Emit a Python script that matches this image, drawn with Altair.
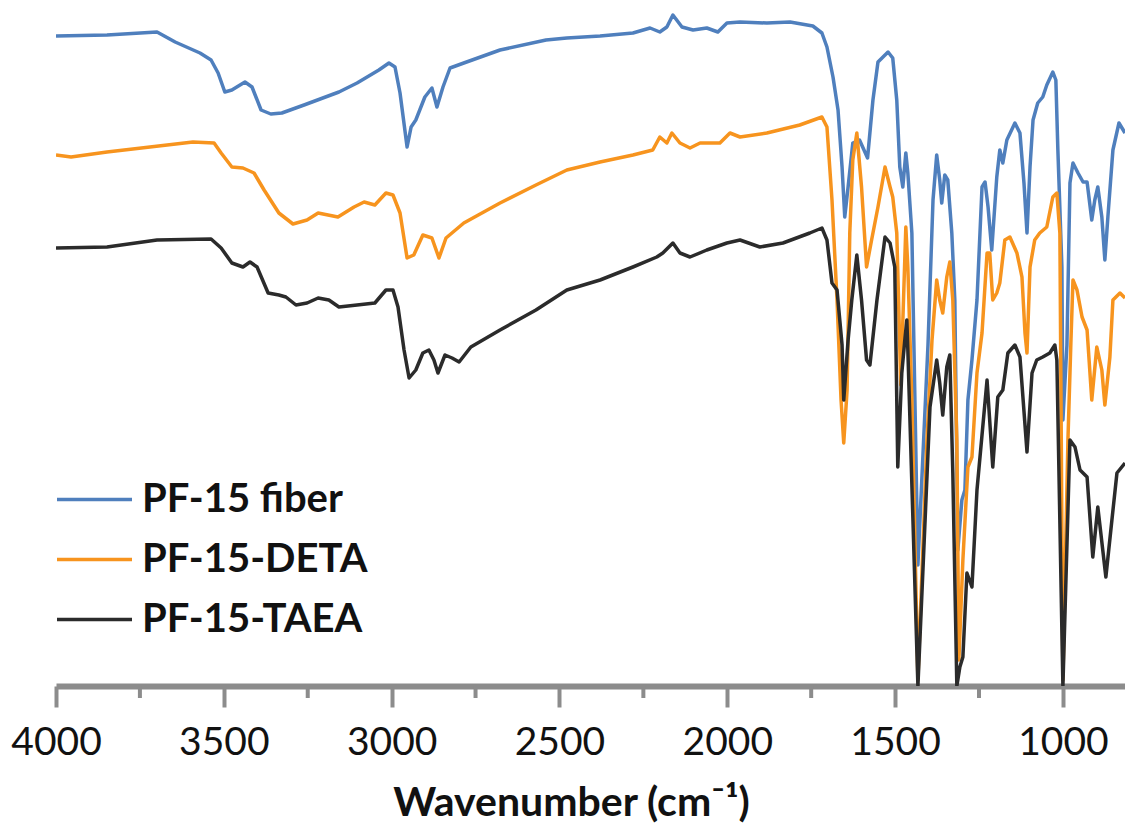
import altair as alt
import pandas as pd

# ---------------- data ----------------
series_names = ["PF-15 fiber", "PF-15-DETA", "PF-15-TAEA"]
series_colors = ["#4F7FBD", "#F7941E", "#2B2B2B"]

fiber_wn = [4000, 3848, 3699, 3645, 3571, 3538, 3517, 3497, 3476, 3437, 3416, 3389, 3360, 3327,
            3261, 3157, 3103, 3038, 3008, 2990, 2975, 2954, 2942, 2928, 2901, 2880, 2865, 2847,
            2826, 2785, 2677, 2540, 2478, 2379, 2281, 2230, 2201, 2180, 2162, 2135, 2102, 2061,
            2028, 2001, 1962, 1882, 1813, 1745, 1718, 1703, 1685, 1670, 1658, 1650, 1640, 1626,
            1606, 1582, 1566, 1551, 1521, 1507, 1495, 1486, 1477, 1468, 1462, 1450, 1432, 1402,
            1387, 1376, 1367, 1361, 1352, 1343, 1331, 1322, 1313, 1301, 1292, 1283, 1271, 1256,
            1241, 1232, 1223, 1212, 1197, 1188, 1179, 1167, 1143, 1128, 1116, 1107, 1098, 1089,
            1075, 1060, 1048, 1030, 1021, 1015, 1003, 1000, 988, 979, 970, 955, 940, 928, 914,
            905, 896, 884, 875, 866, 851, 833, 815]
fiber_t = [650, 651, 654, 644, 633, 626, 613, 594, 596, 604, 599, 576, 572, 573,
           581, 594, 603, 616, 623, 619, 593, 539, 559, 566, 589, 598, 579, 599,
           618, 623, 636, 646, 648, 650, 653, 658, 654, 659, 671, 659, 656, 658,
           654, 663, 664, 663, 664, 660, 653, 639, 609, 576, 519, 469, 499, 543,
           546, 528, 586, 624, 634, 628, 586, 519, 499, 533, 513, 453, 121, 341,
           486, 531, 506, 483, 511, 506, 453, 386, 136, 186, 196, 286, 326, 386,
           499, 504, 479, 436, 509, 536, 523, 546, 563, 553, 503, 453, 519, 566,
           583, 589, 601, 614, 606, 536, 419, 266, 341, 503, 523, 513, 504, 504, 466,
           486, 499, 469, 426, 469, 536, 563, 553]

deta_wn = [4000, 3955, 3848, 3720, 3592, 3529, 3508, 3476, 3443, 3410, 3380, 3336, 3294, 3252,
           3219, 3160, 3112, 3082, 3050, 3017, 2996, 2975, 2954, 2934, 2907, 2880, 2859, 2838,
           2785, 2677, 2570, 2478, 2379, 2281, 2222, 2201, 2180, 2165, 2141, 2111, 2081, 2022,
           1992, 1962, 1882, 1784, 1718, 1703, 1688, 1673, 1661, 1653, 1643, 1635, 1626, 1614,
           1600, 1585, 1570, 1551, 1530, 1515, 1507, 1495, 1483, 1468, 1462, 1450, 1432, 1405,
           1390, 1376, 1367, 1358, 1346, 1337, 1328, 1316, 1310, 1298, 1283, 1271, 1256, 1241,
           1226, 1218, 1209, 1197, 1188, 1173, 1158, 1137, 1122, 1113, 1107, 1098, 1084, 1069,
           1048, 1030, 1018, 1009, 1000, 985, 976, 970, 958, 943, 928, 914, 899, 884, 875, 860,
           851, 830, 815]
deta_t = [531, 529, 534, 539, 544, 543, 533, 519, 518, 513, 496, 473, 462, 466,
          473, 469, 479, 484, 481, 493, 491, 473, 428, 431, 451, 448, 428, 448,
          463, 483, 501, 516, 524, 531, 536, 549, 543, 553, 543, 538, 543, 543,
          553, 549, 553, 561, 569, 559, 486, 386, 286, 243, 296, 453, 526, 553,
          499, 419, 446, 479, 519, 499, 489, 453, 301, 459, 419, 286, 6, 246,
          346, 406, 386, 373, 409, 424, 386, 246, 26, 126, 219, 229, 313, 353,
          433, 433, 386, 393, 403, 446, 449, 433, 409, 353, 333, 419, 446, 453,
          459, 489, 493, 453, 6, 246, 346, 406, 396, 369, 356, 286, 339, 316, 281, 329,
          386, 393, 388]

taea_wn = [4000, 3848, 3699, 3538, 3508, 3476, 3443, 3422, 3401, 3368, 3336, 3315, 3285, 3252,
           3219, 3187, 3157, 3103, 3050, 3017, 2996, 2981, 2963, 2948, 2928, 2907, 2889, 2874,
           2862, 2841, 2820, 2799, 2764, 2677, 2570, 2478, 2379, 2281, 2210, 2192, 2162, 2141,
           2111, 2061, 2001, 1962, 1903, 1834, 1754, 1718, 1703, 1688, 1673, 1658, 1653, 1640,
           1629, 1614, 1600, 1585, 1575, 1554, 1530, 1515, 1501, 1492, 1480, 1471, 1465, 1462,
           1432, 1396, 1376, 1367, 1358, 1346, 1337, 1328, 1316, 1307, 1298, 1286, 1271, 1256,
           1226, 1209, 1194, 1179, 1164, 1143, 1128, 1107, 1092, 1078, 1060, 1039, 1024, 1018,
           1000, 979, 964, 949, 928, 911, 896, 872, 854, 839, 815]
taea_t = [438, 439, 446, 447, 438, 423, 419, 424, 419, 393, 391, 389, 381, 383,
          388, 386, 379, 381, 383, 396, 396, 379, 336, 308, 316, 333, 336, 326,
          313, 331, 328, 324, 339, 356, 376, 396, 406, 419, 429, 433, 443, 433,
          429, 436, 443, 446, 439, 443, 453, 458, 446, 403, 396, 341, 286, 346,
          386, 431, 386, 326, 321, 386, 449, 443, 419, 219, 313, 346, 366, 336,
          0, 279, 326, 303, 271, 319, 331, 213, 0, 19, 29, 113, 99, 196,
          306, 219, 289, 296, 333, 341, 329, 234, 313, 326, 329, 333, 341, 326,
          0, 246, 239, 216, 209, 129, 179, 109, 166, 213, 223]

major_ticks = [4000, 3500, 3000, 2500, 2000, 1500, 1000]
minor_ticks = [3750, 3250, 2750, 2250, 1750, 1250]

# ---------------- build tables ----------------
rows = []
for name, wn, t in zip(series_names, [fiber_wn, deta_wn, taea_wn], [fiber_t, deta_t, taea_t]):
    for i, (w, v) in enumerate(zip(wn, t)):
        rows.append({"series": name, "wn": w, "t": v, "i": i})
df = pd.DataFrame(rows)
minor_df = pd.DataFrame({"wn": minor_ticks})

AXIS_GRAY = "#8C8C8C"
FONT = "Lato"

x_scale = alt.Scale(domain=[815, 4000], reverse=True, nice=False, zero=False)
y_scale = alt.Scale(domain=[0, 686], nice=False, zero=False)

color = alt.Color(
    "series:N",
    scale=alt.Scale(domain=series_names, range=series_colors),
    legend=alt.Legend(
        orient="none", legendX=-1, legendY=460, title=None,
        symbolType="stroke", symbolSize=5625, symbolStrokeWidth=3.5,
        labelFont=FONT, labelFontWeight="bold", labelFontSize=40, labelColor="#111111",
        labelOffset=8, padding=0, rowPadding=0, labelLimit=400,
    ),
)

x_axis = alt.Axis(
    values=major_ticks, format="d", grid=False,
    domainColor=AXIS_GRAY, domainWidth=6,
    tickColor=AXIS_GRAY, tickWidth=4, tickSize=21,
    labelFont=FONT, labelFontSize=39, labelColor="#111111", labelPadding=16,
    labelFlush=False, labelOverlap=False,
    title="Wavenumber (cm\u207b\u00b9)", titleFont=FONT, titleFontWeight="bold",
    titleFontSize=41, titleColor="#111111", titleX=515, titleY=129,
    titleAlign="center", titleBaseline="alphabetic",
)

layers = []
for name in series_names:
    layers.append(
        alt.Chart(df).transform_filter(alt.datum.series == name)
        .mark_line(strokeWidth=3.5, clip=True, strokeJoin="round")
        .encode(
            x=alt.X("wn:Q", scale=x_scale, axis=x_axis),
            y=alt.Y("t:Q", scale=y_scale, axis=None),
            color=color,
            order="i:Q",
        )
    )

minor = alt.Chart(minor_df).mark_rule(color=AXIS_GRAY, strokeWidth=4).encode(
    x=alt.X("wn:Q", scale=x_scale),
    y=alt.value(686),
    y2=alt.value(698),
)

chart = alt.layer(minor, *layers).properties(
    width=1069, height=686,
    padding={"left": 56, "top": 0, "right": 0, "bottom": 138},
    autosize=alt.AutoSizeParams(type="none"),
    background="white",
).configure_view(stroke=None)

chart.save("out.html", embed_options={"renderer": "svg", "actions": False})
